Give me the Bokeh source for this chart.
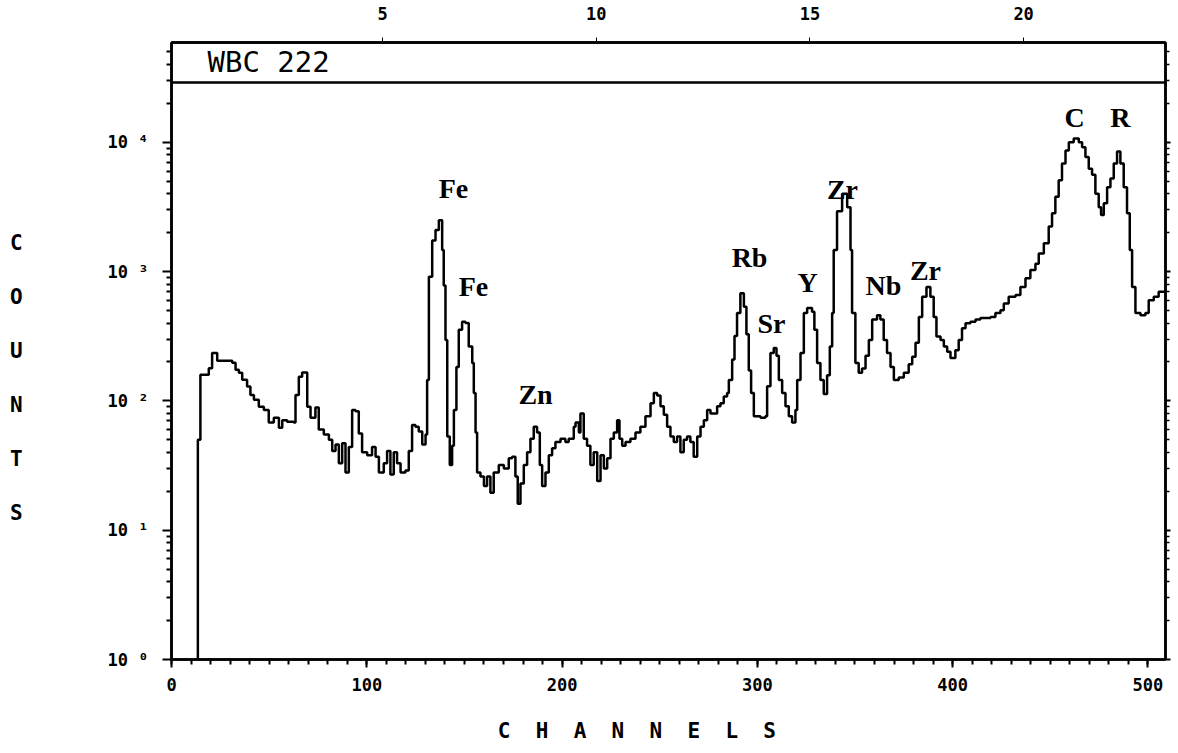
from bokeh.plotting import figure
from bokeh.models import (LogAxis, LinearAxis, Range1d, Span, Label,
                          FixedTicker, CustomJSTickFormatter)
from bokeh.embed import file_html
from bokeh.resources import INLINE

# ---------------- data ----------------
channels = [13.0, 13.5, 14.8, 19.1, 20.8, 23.4, 31.1, 32.8, 34.5, 36.2, 38.7, 40.4, 42.2, 44.7,
            47.3, 49.8, 52.4, 55.0, 56.7, 59.2, 62.6, 63.5, 65.2, 66.9, 69.5, 71.2, 73.7, 75.4,
            78.0, 80.6, 82.3, 84.0, 85.7, 87.4, 89.1, 90.8, 92.5, 94.2, 95.9, 97.6, 100.2, 102.7,
            104.5, 106.2, 108.7, 110.4, 112.1, 113.8, 115.5, 117.3, 119.8, 121.5, 123.2, 124.9,
            126.6, 128.4, 130.1, 130.9, 131.8, 133.5, 135.2, 136.9, 138.6, 139.4, 140.3, 141.2,
            142.5, 143.7, 144.6, 145.9, 147.1, 148.8, 150.5, 152.2, 154.0, 154.8, 155.7, 156.5,
            158.2, 160.0, 161.6, 163.3, 165.0, 167.6, 170.2, 172.7, 174.4, 176.1, 177.3, 178.7,
            180.4, 182.1, 183.8, 185.5, 187.2, 188.6, 189.8, 191.5, 193.2, 194.9, 196.6, 199.2,
            201.7, 203.4, 206.0, 206.9, 208.6, 209.4, 211.1, 212.8, 214.5, 216.2, 218.0, 219.7,
            221.4, 223.1, 224.8, 226.5, 228.2, 229.4, 230.8, 232.5, 235.0, 237.6, 240.1, 242.7,
            245.3, 247.0, 248.7, 250.4, 252.1, 253.8, 255.5, 257.2, 258.9, 260.6, 262.3, 264.0,
            265.7, 267.4, 269.2, 270.9, 272.6, 274.3, 276.0, 279.4, 281.1, 282.8, 284.5, 285.4,
            287.1, 288.3, 289.6, 291.3, 293.1, 294.4, 295.6, 296.8, 298.2, 301.6, 304.1, 305.0,
            306.7, 308.4, 309.8, 311.0, 312.7, 314.4, 316.1, 317.8, 319.5, 320.4, 322.1, 323.8,
            325.5, 328.0, 329.2, 330.6, 332.3, 334.0, 335.7, 337.1, 338.3, 339.1, 340.8, 343.4,
            346.0, 347.7, 348.5, 350.2, 351.9, 353.6, 355.4, 357.1, 358.8, 361.3, 363.0, 364.7,
            366.4, 368.2, 369.9, 372.4, 375.0, 377.5, 379.3, 381.0, 382.7, 384.4, 386.6, 388.6,
            390.3, 391.7, 393.8, 395.5, 397.2, 398.9, 401.4, 403.1, 404.8, 406.6, 409.1, 411.7,
            414.2, 416.8, 419.4, 421.9, 424.5, 426.2, 428.7, 432.2, 434.7, 437.3, 439.8, 442.4,
            444.1, 446.7, 449.2, 450.9, 452.6, 454.3, 456.0, 457.8, 459.5, 462.0, 464.6, 466.3,
            468.0, 469.7, 471.4, 473.1, 474.8, 476.0, 477.4, 479.1, 480.8, 482.5, 484.2, 485.9,
            487.6, 489.3, 490.7, 491.9, 493.6, 496.2, 498.7, 500.4, 503.0, 505.5, 509.0]
counts = [1.0, 50, 159, 179, 235, 204, 197, 174, 165, 146, 129, 111, 102, 90,
          85, 68, 74, 62, 71, 69, 68, 111, 154, 166, 90, 74, 89, 60,
          55, 50, 41, 46, 33, 47, 28, 44, 85, 83, 56, 40, 38, 44,
          37, 28, 33, 41, 27, 40, 33, 28, 29, 41, 65, 63,
          58, 46, 55, 145, 912, 1740, 2100, 2500, 1470, 780, 296, 53,
          32, 45, 85, 183, 355, 409, 400, 263, 196, 115, 57, 28,
          26, 22, 26, 19.5, 28, 32, 30, 36, 37, 26, 16, 23,
          32, 40, 51, 63, 57, 32, 22, 28, 38, 43, 48, 51,
          48, 51, 63, 68, 57, 80, 51, 45, 32, 40, 24, 38,
          30, 36, 51, 57, 71, 51, 45, 48, 51, 57, 63, 76,
          96, 115, 110, 91, 78, 63, 53, 48, 53, 40, 50, 53,
          48, 37, 53, 63, 71, 85, 80, 91, 96, 108, 115, 145,
          209, 318, 478, 680, 535, 328, 172, 115, 76, 74, 76, 130,
          235, 257, 223, 145, 115, 91, 76, 68, 85, 145, 235, 478,
          524, 490, 355, 196, 145, 113, 158, 263, 478, 1470, 2930, 4000,
          3150, 1470, 478, 196, 165, 178, 223, 296, 426, 460, 426, 296,
          235, 183, 145, 152, 165, 192, 220, 282, 446, 640, 760, 640,
          446, 315, 296, 263, 240, 215, 247, 296, 364, 398, 409, 426,
          437, 437, 446, 478, 503, 567, 640, 660, 760, 890, 1030, 1150,
          1380, 1660, 2230, 2830, 3800, 5100, 6850, 8650, 10000, 10700, 10000, 9150,
          7700, 6250, 5600, 4000, 3150, 2740, 3380, 4500, 5250, 6850, 8500, 6850,
          4500, 2830, 1470, 760, 478, 460, 478, 600, 640, 700, 700]

peak_names = ["Fe", "Fe", "Zn", "Rb", "Sr", "Y", "Zr", "Nb", "Zr", "C", "R"]
peak_label_channel = [144.4, 154.6, 186.4, 296.0, 307.2, 325.7, 343.6, 364.6, 386.1, 462.4, 485.9]
peak_label_counts = [4415, 773, 113, 1294, 400, 830, 4335, 787, 1027, 15600, 15600]

channel_ticks = [0, 100, 200, 300, 400, 500]
energy_ticks = [5, 10, 15, 20]
count_ticks = [1, 10, 100, 1000, 10000]
sample_name = "WBC 222"
x_title = "CHANNELS"
y_title = "COUNTS"

# ---------------- geometry ----------------
X0, X1 = 0.0, 509.0
Y0, Y1 = 1.0, 10 ** 4.772
BAND = 10 ** 4.463
E0, E1 = 0.062, 23.32

def ch_at(px):          # page x -> channel
    return (px - 171.0) / 1.953

def cnt_at(py):         # page y -> counts
    return 10 ** ((660.0 - py) / 129.5)

p = figure(width=1172, height=745, x_range=Range1d(X0, X1), y_range=Range1d(Y0, Y1),
           y_axis_type="log", output_backend="svg", toolbar_location=None,
           min_border_left=171, min_border_right=7, min_border_top=42, min_border_bottom=85)
p.grid.visible = False
p.outline_line_color = "black"
p.outline_line_width = 2.5
p.background_fill_color = "white"
p.border_fill_color = "white"

tick_font = "DejaVu Sans Mono"
NB = "\u00a0"

# bottom axis
xa = p.xaxis[0]
xa.ticker = FixedTicker(ticks=channel_ticks, minor_ticks=list(range(0, 510, 10)))
xa.axis_line_width = 2.5
xa.major_tick_line_width = 2
xa.minor_tick_line_width = 2
xa.major_tick_out = 8
xa.major_tick_in = 0
xa.minor_tick_out = 5
xa.minor_tick_in = 0
xa.major_label_text_font = tick_font
xa.major_label_text_font_style = "bold"
xa.major_label_text_font_size = "17px"
xa.major_label_text_color = "black"
xa.major_label_standoff = 10
xa.axis_label = (NB * 2).join(x_title) + NB * 5
xa.axis_label_text_font = tick_font
xa.axis_label_text_font_style = "bold"
xa.axis_label_text_font_size = "21px"
xa.axis_label_text_color = "black"
xa.axis_label_standoff = 25

# left axis
ya = p.yaxis[0]
minors = [m * 10 ** k for k in range(0, 5) for m in range(2, 10)]
ya.ticker = FixedTicker(ticks=count_ticks, minor_ticks=minors)
ya.formatter = CustomJSTickFormatter(
    code="const s=['\u2070','\u00b9','\u00b2','\u00b3','\u2074','\u2075'];"
         "return '10 ' + s[Math.round(Math.log10(tick))];")
ya.axis_line_width = 2.5
ya.major_tick_line_width = 2
ya.minor_tick_line_width = 2
ya.major_tick_out = 9
ya.major_tick_in = 0
ya.minor_tick_out = 5
ya.minor_tick_in = 0
ya.major_label_text_font = tick_font
ya.major_label_text_font_style = "bold"
ya.major_label_text_font_size = "17px"
ya.major_label_text_color = "black"
ya.major_label_standoff = 14
ya.axis_label_text_font = tick_font
ya.axis_label_text_font_style = "bold"
ya.axis_label_text_font_size = "21px"
ya.axis_label_text_color = "black"
if "axis_label_orientation" in ya.properties():
    ya.axis_label = "\n".join([NB] + list(y_title))
    ya.axis_label_orientation = "horizontal"
    ya.axis_label_text_line_height = 2.25
    ya.axis_label_standoff = 82
else:
    ya.axis_label = (NB * 2).join(y_title)
    ya.axis_label_standoff = 72

# right axis (ticks only)
ra = LogAxis(ticker=FixedTicker(ticks=count_ticks, minor_ticks=minors))
ra.axis_line_width = 2.5
ra.major_tick_out = 5
ra.major_tick_in = 0
ra.minor_tick_out = 4
ra.minor_tick_in = 0
ra.major_tick_line_width = 2
ra.minor_tick_line_width = 1.5
ra.major_label_text_font_size = "1px"
ra.major_label_text_color = None
ra.major_label_standoff = 0
p.add_layout(ra, "right")

# top axis (energy)
p.extra_x_ranges = {"energy": Range1d(E0, E1)}
ta = LinearAxis(x_range_name="energy", ticker=FixedTicker(ticks=energy_ticks))
ta.axis_line_width = 2.5
ta.major_tick_out = 5
ta.major_tick_in = 0
ta.minor_tick_line_color = None
ta.major_label_text_font = tick_font
ta.major_label_text_font_style = "bold"
ta.major_label_text_font_size = "17px"
ta.major_label_text_color = "black"
ta.major_label_standoff = 18
p.add_layout(ta, "above")

# title band separator and sample name
p.add_layout(Span(location=BAND, dimension="width", line_color="black", line_width=2.5))
p.add_layout(Label(x=ch_at(207), y=cnt_at(62), text=sample_name, text_font="DejaVu Sans Mono",
                   text_font_size="29px", text_color="black",
                   text_baseline="middle", text_align="left"))

# spectrum
p.step(channels, counts, mode="after", line_color="black", line_width=2.5)

# peak labels
for name, cx, cy in zip(peak_names, peak_label_channel, peak_label_counts):
    p.add_layout(Label(x=cx, y=cy, text=name, text_font="Liberation Serif",
                       text_font_style="bold", text_font_size="28px", text_color="black",
                       text_align="center", text_baseline="middle"))

open("out.html", "w", encoding="utf-8").write(file_html(p, INLINE))
